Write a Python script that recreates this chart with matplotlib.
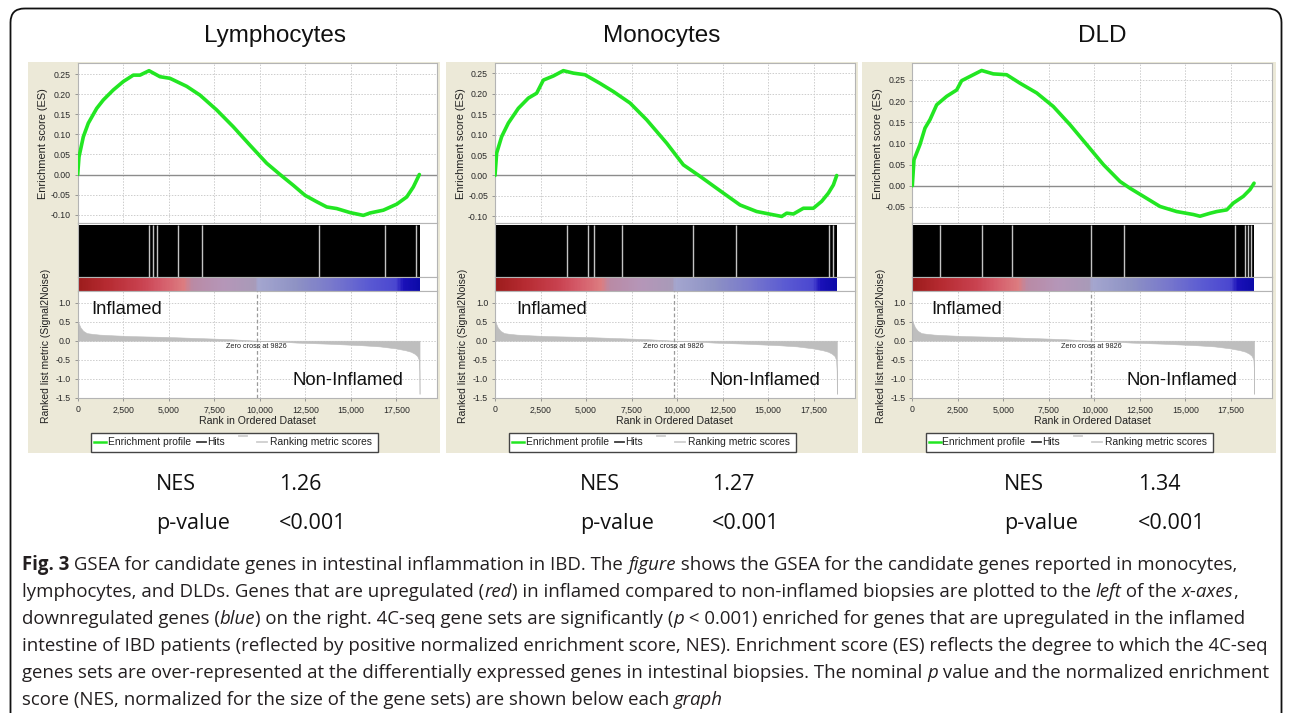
import re
import numpy as np
import matplotlib
matplotlib.use("Agg")
import matplotlib.pyplot as plt
from matplotlib.patches import Rectangle, FancyBboxPatch
from matplotlib.lines import Line2D
from matplotlib.colors import LinearSegmentedColormap, Normalize
from matplotlib.ticker import FuncFormatter

plt.rcParams['font.family'] = ['Liberation Sans', 'DejaVu Sans']

# ---------------- data ----------------
titles = ['Lymphocytes', 'Monocytes', 'DLD']
nes_values = ['1.26', '1.27', '1.34']
p_values = ['<0.001', '<0.001', '<0.001']

n_genes = 18780
zero_cross = 9826
x_ticks = [0, 2500, 5000, 7500, 10000, 12500, 15000, 17500]

es_ranks_lymph = [0, 71, 308, 582, 1044, 1407, 1956, 2505, 3055, 3423, 3918, 4522, 5071, 5989, 6720,
                  7637, 8549, 9467, 10385, 11115, 11846, 12489, 13132, 13681, 14231, 14962, 15692,
                  16060, 16791, 17527, 18077, 18440, 18769]
es_vals_lymph = [0, 0.044, 0.094, 0.128, 0.165, 0.186, 0.211, 0.232, 0.248, 0.248, 0.259, 0.244, 0.240,
                 0.220, 0.198, 0.161, 0.119, 0.073, 0.028, 0.0, -0.027, -0.052, -0.068, -0.081, -0.085,
                 -0.095, -0.102, -0.096, -0.089, -0.074, -0.056, -0.031, 0.0]

es_ranks_mono = [0, 92, 366, 733, 1282, 1832, 2289, 2656, 3205, 3755, 4304, 4945, 5769, 6502, 7418,
                 8333, 9432, 10348, 11264, 12546, 13462, 14377, 15293, 15751, 16026, 16392, 16941,
                 17490, 17949, 18315, 18590, 18773]
es_vals_mono = [0, 0.055, 0.095, 0.128, 0.164, 0.189, 0.201, 0.233, 0.243, 0.256, 0.250, 0.246, 0.225,
                0.205, 0.177, 0.136, 0.079, 0.026, -0.002, -0.043, -0.072, -0.088, -0.096, -0.100,
                -0.092, -0.094, -0.080, -0.080, -0.063, -0.043, -0.023, 0.0]

es_ranks_dld = [0, 92, 238, 421, 698, 973, 1339, 1888, 2438, 2712, 3352, 3810, 4451, 5183, 5916, 6835,
                7747, 8665, 9582, 10495, 11412, 11962, 12692, 13610, 14527, 15440, 15806, 16357, 16725,
                17275, 17637, 18187, 18555, 18775]
es_vals_dld = [0, 0.061, 0.077, 0.097, 0.136, 0.156, 0.191, 0.211, 0.226, 0.248, 0.262, 0.272, 0.264,
               0.262, 0.242, 0.219, 0.187, 0.144, 0.097, 0.050, 0.010, -0.006, -0.025, -0.049, -0.061,
               -0.068, -0.072, -0.065, -0.061, -0.057, -0.041, -0.025, -0.009, 0.006]

# ranks where the (dense) hit band shows gaps
hit_gaps_lymph = [3934, 4121, 4374, 5484, 6841, 13269, 16885, 18570]
hit_gaps_mono = [3940, 5093, 5440, 6995, 10896, 13242, 18335, 18555]
hit_gaps_dld = [1522, 3813, 5462, 9802, 11632, 17731, 18280, 18462, 18610]

# ranked list metric (Signal2Noise), shared by the three analyses
metric_ranks = [0, 60, 150, 300, 500, 800, 1200, 2000, 3000, 4800, 6600, 8400, 9826, 11000, 12040,
                13840, 15640, 16600, 17440, 18000, 18300, 18500, 18650, 18740, 18770, 18780]
metric_vals = [0.54, 0.45, 0.35, 0.26, 0.20, 0.18, 0.16, 0.14, 0.12, 0.10, 0.07, 0.04, 0.0, -0.02,
               -0.05, -0.08, -0.12, -0.15, -0.20, -0.25, -0.29, -0.34, -0.40, -0.50, -0.80, -1.40]

# colour bar of the ranked list (rank, colour)
cbar_ranks = [0, 1500, 3500, 4500, 5800, 6300, 8000, 9700, 9900, 12000, 14000, 16000, 17500, 17900, 18780]
cbar_colors = ['#9c1c1c', '#b52a30', '#c94250', '#d45a68', '#dc7c80', '#b98aa5', '#b596b8', '#a89ab8',
               '#a4a6cf', '#8e92c4', '#7878cc', '#5a5ad2', '#4a46d0', '#1a10b8', '#0c0aa8']

es_ranks = [es_ranks_lymph, es_ranks_mono, es_ranks_dld]
es_vals = [es_vals_lymph, es_vals_mono, es_vals_dld]
hit_gaps = [hit_gaps_lymph, hit_gaps_mono, hit_gaps_dld]
es_ticks = [[-0.10, -0.05, 0, 0.05, 0.10, 0.15, 0.20, 0.25],
            [-0.10, -0.05, 0, 0.05, 0.10, 0.15, 0.20, 0.25],
            [-0.05, 0, 0.05, 0.10, 0.15, 0.20, 0.25]]
metric_ticks = [-1.5, -1.0, -0.5, 0.0, 0.5, 1.0]

caption_lines = [
    "**Fig.~3** GSEA for candidate genes in intestinal inflammation in IBD. The *figure* shows the GSEA for the candidate genes reported in monocytes,",
    "lymphocytes, and DLDs. Genes that are upregulated (*red*) in inflamed compared to non-inflamed biopsies are plotted to the *left* of the *x-axes*,",
    "downregulated genes (*blue*) on the right. 4C-seq gene sets are significantly (*p* < 0.001) enriched for genes that are upregulated in the inflamed",
    "intestine of IBD patients (reflected by positive normalized enrichment score, NES). Enrichment score (ES) reflects the degree to which the 4C-seq",
    "genes sets are over-represented at the differentially expressed genes in intestinal biopsies. The nominal *p* value and the normalized enrichment",
    "score (NES, normalized for the size of the gene sets) are shown below each *graph*",
]

# ---------------- layout (pixels) ----------------
W, H = 1292, 713
fig = plt.figure(figsize=(W / 100, H / 100), dpi=100)
fig.patch.set_facecolor('white')

bg = fig.add_axes([0, 0, 1, 1], zorder=0)
bg.set_xlim(0, W)
bg.set_ylim(H, 0)
bg.axis('off')


def add_ax(x0, y0, x1, y1):
    return fig.add_axes([x0 / W, 1 - y1 / H, (x1 - x0) / W, (y1 - y0) / H], zorder=2)


def ftext(x, y, s, **kw):
    return fig.text(x / W, 1 - y / H, s, **kw)


BEIGE = '#ECE9D8'
SPINE = '#b4b4b4'
GRID = '#cdcdcd'
plot_left = [77.7, 495.0, 912.3]
plot_w = 359.5
x_max = 19750
beige_x = [(28, 440), (446, 858), (862, 1276)]
es_ylims = [(-0.121, 0.2775), (-0.116, 0.274), (-0.088, 0.289)]
Y_ES, Y_HIT, Y_CB, Y_MET, Y_BOT = 63.3, 223.0, 277.3, 291.0, 397.7

# outer rounded frame
bg.add_patch(FancyBboxPatch((10.5, 8.5), 1271, 740, boxstyle='round,pad=0,rounding_size=14',
                            fill=False, ec='#111111', lw=1.3))

cmap = LinearSegmentedColormap.from_list('rank', list(zip(np.array(cbar_ranks) / n_genes, cbar_colors)))

lab_font = dict(family=['Liberation Sans', 'DejaVu Sans'], color='#222222')
tick_fmt2 = FuncFormatter(lambda v, p: f'{v:.2f}')
tick_fmt1 = FuncFormatter(lambda v, p: f'{v:.1f}')
tick_fmtx = FuncFormatter(lambda v, p: f'{int(v):,}')


def style_axes(ax):
    for s in ax.spines.values():
        s.set_color(SPINE)
        s.set_linewidth(0.8)
    ax.tick_params(colors='#8a8a8a', labelcolor='#2a2a2a', labelsize=6.3, length=2.5, width=0.6, pad=2.5)


for i in range(3):
    L = plot_left[i]
    R = L + plot_w
    bx0, bx1 = beige_x[i]
    bg.add_patch(Rectangle((bx0, 61.7), bx1 - bx0, 453 - 61.7, fc=BEIGE, ec='none'))

    # title
    ftext((bx0 + bx1) / 2 + (41 if i == 0 else 10 if i == 1 else 33), 42, titles[i], ha='center',
          va='baseline', fontsize=17.5, color='#111111')

    # --- enrichment score
    ax = add_ax(L, Y_ES, R, Y_HIT)
    ax.set_facecolor('white')
    ax.set_xlim(0, x_max)
    ax.set_ylim(*es_ylims[i])
    ax.set_xticks(x_ticks)
    ax.set_yticks(es_ticks[i])
    ax.yaxis.set_major_formatter(tick_fmt2)
    ax.grid(True, color=GRID, lw=0.7, ls=(0, (1.5, 1.5)))
    ax.axhline(0, color='#8c8c8c', lw=1.0, zorder=2)
    ax.plot(es_ranks[i], es_vals[i], color='#22e622', lw=2.6, solid_joinstyle='round',
            solid_capstyle='round', zorder=3)
    style_axes(ax)
    ax.tick_params(axis='x', length=0, labelbottom=False)

    # --- hits
    axh = add_ax(L, Y_HIT, R, Y_CB)
    axh.set_xlim(0, x_max)
    axh.set_ylim(0, 1)
    axh.axvspan(0, n_genes, ymin=0, ymax=0.965, color='black', lw=0)
    axh.vlines(hit_gaps[i], 0, 0.965, color='#c4c4c4', lw=1.0)
    axh.set_xticks([])
    axh.set_yticks([])
    style_axes(axh)

    # --- colour bar of ranked list
    axc = add_ax(L, Y_CB, R, Y_MET)
    axc.set_xlim(0, x_max)
    axc.set_ylim(0, 1)
    edges = np.arange(0, n_genes + 1, 30)
    axc.pcolormesh(edges, [0.03, 1], edges[:-1][None, :], cmap=cmap,
                   norm=Normalize(0, n_genes), shading='flat')
    axc.set_xticks([])
    axc.set_yticks([])
    style_axes(axc)

    # --- ranked list metric
    axm = add_ax(L, Y_MET, R, Y_BOT)
    axm.set_xlim(0, x_max)
    axm.set_ylim(-1.5, 1.308)
    axm.set_xticks(x_ticks)
    axm.set_yticks(metric_ticks)
    axm.xaxis.set_major_formatter(tick_fmtx)
    axm.yaxis.set_major_formatter(tick_fmt1)
    axm.grid(True, color=GRID, lw=0.7, ls=(0, (1.5, 1.5)))
    axm.fill_between(metric_ranks, metric_vals, 0, color='#bebebe', lw=0.4, edgecolor='#bebebe', zorder=2)
    axm.axvline(zero_cross, color='#9a9a9a', lw=0.9, ls=(0, (3, 2)), zorder=3)
    axm.text(zero_cross, -0.14, 'Zero cross at 9826', ha='center', va='center', fontsize=5.2,
             color='#222222', zorder=4)
    style_axes(axm)
    axm.tick_params(axis='x', pad=3)

    # in-plot annotations
    ftext(L + [14, 21.7, 18.7][i], 309.3, 'Inflamed', ha='left', va='center', fontsize=13.3, color='#111111')
    ftext(L + [270.6, 270, 269.4][i], 380.5, 'Non-Inflamed', ha='center', va='center', fontsize=13.3,
          color='#111111')

    # axis labels
    ftext(L - 34.5, (Y_ES + Y_HIT) / 2, 'Enrichment score (ES)', rotation=90, ha='center', va='center',
          fontsize=7.9, **lab_font)
    ftext(L - 31.5, 346, 'Ranked list metric (Signal2Noise)', rotation=90, ha='center', va='center',
          fontsize=7.5, **lab_font)
    ftext((L + R) / 2, 421, 'Rank in Ordered Dataset', ha='center', va='center', fontsize=7.6, **lab_font)

    # legend
    lc = (bx0 + bx1) / 2
    lx = lc - 143.5
    ly0, ly1 = 433.0, 451.7
    ym = (ly0 + ly1) / 2
    bg.add_patch(Rectangle((lx, ly0), 287, ly1 - ly0, fc='white', ec='#444444', lw=1.0, zorder=3))
    bg.add_line(Line2D([lx + 3, lx + 15], [ym, ym], color='#22e622', lw=1.8, zorder=4))
    bg.text(lx + 17, ym, 'Enrichment profile', ha='left', va='center', fontsize=7.4, color='#222222', zorder=4)
    bg.add_line(Line2D([lx + 106, lx + 115], [ym, ym], color='#3a3a3a', lw=1.3, zorder=4))
    bg.text(lx + 116.5, ym, 'Hits', ha='left', va='center', fontsize=7.4, color='#222222', zorder=4)
    bg.add_line(Line2D([lx + 148, lx + 156], [ym - 6.5, ym - 6.5], color='#cfcfcf', lw=1.3, zorder=4))
    bg.add_line(Line2D([lx + 166, lx + 176], [ym, ym], color='#cfcfcf', lw=1.3, zorder=4))
    bg.text(lx + 179.5, ym, 'Ranking metric scores', ha='left', va='center', fontsize=7.4,
            color='#222222', zorder=4)

    # NES / p-value
    nx = [156, 580, 1004][i]
    vx = [279, 711.7, 1138][i]
    ftext(nx, 490, 'NES', ha='left', va='baseline', fontsize=15.5, family='Open Sans', color='#111111')
    ftext(vx, 490, nes_values[i], ha='left', va='baseline', fontsize=15.5, family='Open Sans', color='#111111')
    ftext(nx, 529, 'p-value', ha='left', va='baseline', fontsize=15.5, family='Open Sans', color='#111111')
    ftext(vx, 529, p_values[i], ha='left', va='baseline', fontsize=15.5, family='Open Sans', color='#111111')

# ---------------- caption ----------------
renderer = fig.canvas.get_renderer()
CAP_FONT = 'Open Sans'


def pieces(line):
    out = []
    for part in re.split(r'(\*\*[^*]+\*\*|\*[^*]+\*)', line):
        if not part:
            continue
        if part.startswith('**'):
            out.append((part[2:-2].replace('~', ' '), 'bold'))
        elif part.startswith('*'):
            out.append((part[1:-1], 'italic'))
        else:
            out.append((part, 'normal'))
    return out


def seg_width(s, style, size):
    kw = dict(fontsize=size, family=CAP_FONT)
    if style == 'bold':
        kw['weight'] = 'bold'
    if style == 'italic':
        kw['style'] = 'italic'
    t1 = fig.text(0, 0, 'X' + s + 'X', **kw)
    t2 = fig.text(0, 0, 'XX', **kw)
    w = t1.get_window_extent(renderer).width - t2.get_window_extent(renderer).width
    t1.remove()
    t2.remove()
    return w


cap_x0 = 22
target_right = 1262
size0 = 12.0
w4 = sum(seg_width(s, st, size0) for s, st in pieces(caption_lines[3]))
cap_size = size0 * (target_right - cap_x0) / w4

cap_y = [565, 592, 619, 646, 673, 700]
for line, y in zip(caption_lines, cap_y):
    x = cap_x0
    for s, st in pieces(line):
        kw = dict(fontsize=cap_size, family=CAP_FONT, color='#231f20', ha='left', va='center')
        if st == 'bold':
            kw['weight'] = 'bold'
        if st == 'italic':
            kw['style'] = 'italic'
        ftext(x, y, s, **kw)
        x += seg_width(s, st, cap_size)

fig.savefig('out.png', dpi=100, facecolor='white')
